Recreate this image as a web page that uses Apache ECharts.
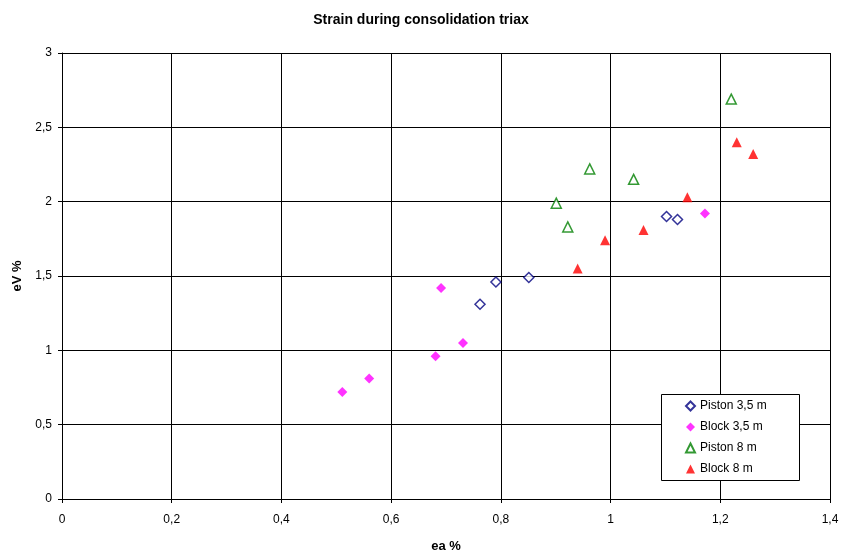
<!DOCTYPE html>
<html><head><meta charset="utf-8">
<script src="https://cdn.jsdelivr.net/npm/echarts@6/dist/echarts.min.js"></script>
<style>html,body{margin:0;padding:0;background:#fff}#c{width:842px;height:553px}</style>
</head><body><div id="c"></div>
<script>
const pistonA_x = [0.762, 0.791, 0.851, 1.102, 1.122];
const pistonA_y = [1.31, 1.46, 1.49, 1.90, 1.88];
const blockA_x = [0.511, 0.560, 0.681, 0.731, 0.691, 1.172];
const blockA_y = [0.72, 0.81, 0.96, 1.05, 1.42, 1.92];
const pistonB_x = [0.901, 0.922, 0.962, 1.042, 1.22];
const pistonB_y = [1.99, 1.83, 2.22, 2.15, 2.69];
const blockB_x = [0.94, 0.99, 1.06, 1.14, 1.23, 1.26];
const blockB_y = [1.55, 1.74, 1.81, 2.03, 2.40, 2.32];
const seriesNames = ['Piston 3,5 m', 'Block 3,5 m', 'Piston 8 m', 'Block 8 m'];

const zip = (a, b) => a.map((v, i) => [v, b[i]]);
const fmt = v => String(Math.round(v * 10) / 10).replace('.', ',');
const F = 'Liberation Sans, Arial, sans-serif';

const chart = echarts.init(document.getElementById('c'));
chart.setOption({
  animation: false,
  title: { text: 'Strain during consolidation triax', left: 'center', top: 8,
    textStyle: { fontFamily: F, fontSize: 14, fontWeight: 'bold', color: '#000' } },
  grid: { left: 62, right: 12, top: 53, bottom: 54, containLabel: false, outerBoundsMode: 'none' },
  xAxis: { type: 'value', min: 0, max: 1.4, interval: 0.2,
    name: 'ea %', nameLocation: 'middle', nameGap: 41,
    nameTextStyle: { fontFamily: F, fontSize: 13, fontWeight: 'bold', color: '#000' },
    axisLine: { lineStyle: { color: '#000' } },
    axisTick: { show: true, length: 4, lineStyle: { color: '#000' } },
    axisLabel: { fontFamily: F, fontSize: 12, color: '#000', margin: 15, formatter: fmt },
    splitLine: { show: true, lineStyle: { color: '#000', width: 1 } } },
  yAxis: { type: 'value', min: 0, max: 3, interval: 0.5,
    name: 'eV %', nameLocation: 'middle', nameGap: 38,
    nameTextStyle: { fontFamily: F, fontSize: 13, fontWeight: 'bold', color: '#000' },
    axisLine: { show: true, lineStyle: { color: '#000' } },
    axisTick: { show: true, length: 4, lineStyle: { color: '#000' } },
    axisLabel: { fontFamily: F, fontSize: 12, color: '#000', margin: 10, formatter: fmt },
    splitLine: { show: true, lineStyle: { color: '#000', width: 1 } } },
  graphic: [{ type: 'rect', left: 661, top: 394, z: 5,
    shape: { width: 138, height: 86 },
    style: { fill: '#fff', stroke: '#000', lineWidth: 1 } }],
  legend: { orient: 'vertical', left: 685, top: 399, z: 10,
    padding: 0, itemGap: 7, itemWidth: 9, itemHeight: 9,
    textStyle: { fontFamily: F, fontSize: 12, color: '#000', lineHeight: 14 },
    data: seriesNames },
  series: [
    { name: seriesNames[0], type: 'scatter', data: zip(pistonA_x, pistonA_y), symbol: 'diamond', symbolSize: 10,
      itemStyle: { color: '#fff', borderColor: '#000080', borderWidth: 1.5 } },
    { name: seriesNames[1], type: 'scatter', data: zip(blockA_x, blockA_y), symbol: 'diamond', symbolSize: 10,
      itemStyle: { color: '#ff00ff' } },
    { name: seriesNames[2], type: 'scatter', data: zip(pistonB_x, pistonB_y), symbol: 'triangle', symbolSize: 10,
      itemStyle: { color: '#fff', borderColor: '#008000', borderWidth: 1.5 } },
    { name: seriesNames[3], type: 'scatter', data: zip(blockB_x, blockB_y), symbol: 'triangle', symbolSize: 10,
      itemStyle: { color: '#ff0000' } }
  ]
});
</script></body></html>
